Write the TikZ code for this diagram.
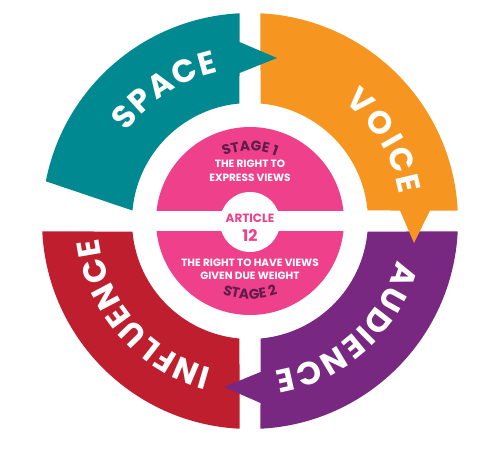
\documentclass[tikz,border=0pt]{standalone}
\usepackage{fontspec}
\newfontfamily\pop{Poppins}
\usetikzlibrary{decorations.text}
\definecolor{cteal}{RGB}{0,137,145}
\definecolor{corange}{RGB}{246,150,33}
\definecolor{cpurple}{RGB}{120,40,128}
\definecolor{cred}{RGB}{190,30,45}
\definecolor{cpink}{RGB}{238,64,139}
\definecolor{cstage}{RGB}{94,28,72}
\tikzset{
  ringlabel/.style={decorate,decoration={text along path,text color=white,text align={fit to path},text={#1}}},
  stagelabel/.style={decorate,decoration={text along path,text color=cstage,text align=center,text={#1}}},
  inner/.style={text=white,font=\pop\bfseries\fontsize{10.5}{12}\selectfont,align=center,inner sep=0pt},
  art/.style={text=cpink,font=\pop\bfseries\fontsize{#1}{#1}\selectfont,inner sep=0pt}
}
\begin{document}
\begin{tikzpicture}[x=1pt,y=1pt]
\useasboundingbox (-250,-232) rectangle (250,221);
% red quadrant
\fill[cred] (182.89:208) -- (185.11:118) arc[start angle=185.11,end angle=264.89,radius=118]
  -- (267.11:208) arc[start angle=267.11,end angle=182.89,radius=208] -- cycle;
% purple quadrant with arrow
\fill[cpurple] (-2.89:208) -- (-5.11:118) arc[start angle=-5.11,end angle=-84.89,radius=118]
  -- (10.5,-151) -- (-26,-166) -- (10.5,-182)
  -- (-87.11:208) arc[start angle=-87.11,end angle=-2.89,radius=208] -- cycle;
% orange quadrant with arrow
\fill[corange] (87.11:208) arc[start angle=87.11,end angle=2.89,radius=208]
  -- (180,10.5) -- (164,-22) -- (150,10.5)
  -- (5.11:118) arc[start angle=5.11,end angle=84.89,radius=118] -- cycle;
% teal quadrant with arrow
\fill[cteal] (92.89:208) -- (-10.5,179) -- (27,163) -- (-10.5,148)
  -- (95.11:118) arc[start angle=95.11,end angle=174.89,radius=118]
  -- (169:208) arc[start angle=169,end angle=92.89,radius=208] -- cycle;
% pink disc halves
\fill[cpink] (6.11:94) arc[start angle=6.11,end angle=173.89,radius=94] -- cycle;
\fill[cpink] (-6.11:94) arc[start angle=-6.11,end angle=-173.89,radius=94] -- cycle;
\fill[white] (0,-1) circle[radius=30];
% ring labels
\path[ringlabel={|\pop\bfseries\fontsize{32}{32}\selectfont|SPACE}]
  (144:152) arc[start angle=144,end angle=102,radius=152];
\path[ringlabel={|\pop\bfseries\fontsize{32}{32}\selectfont|VOICE}]
  (51.5:152) arc[start angle=51.5,end angle=10,radius=152];
\path[ringlabel={|\pop\bfseries\fontsize{32}{32}\selectfont|AUDIENCE}]
  (-15:152) arc[start angle=-15,end angle=-80.5,radius=152];
\path[ringlabel={|\pop\bfseries\fontsize{32}{32}\selectfont|INFLUENCE}]
  (255.5:152) arc[start angle=255.5,end angle=186.5,radius=152];
% stage labels
\path[stagelabel={|\pop\bfseries\fontsize{14}{14}\selectfont|STAGE 1}]
  (130:70) arc[start angle=130,end angle=50,radius=70];
\path[stagelabel={|\pop\bfseries\fontsize{14}{14}\selectfont|STAGE 2}]
  (230:78) arc[start angle=230,end angle=310,radius=78];
% inner texts
\node[inner] (s1a) at (0,57) {THE RIGHT TO};
\node[inner] (s1b) at (0,43) {EXPRESS VIEWS};
\node[inner] (s2a) at (0,-42) {THE RIGHT TO HAVE VIEWS};
\node[inner] (s2b) at (0,-55) {GIVEN DUE WEIGHT};
\node[art=12] (art) at (0,3) {ARTICLE};
\node[art=16] (n12) at (0,-15) {12};
\end{tikzpicture}
\end{document}
